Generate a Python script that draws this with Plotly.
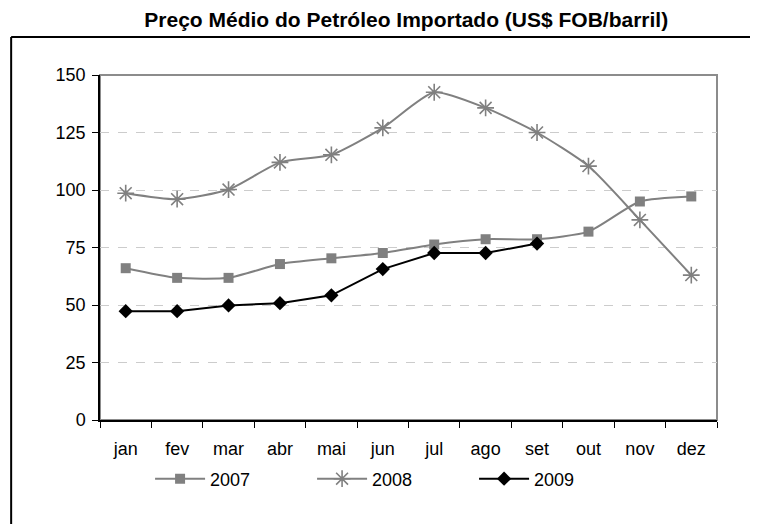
import plotly.graph_objects as go

# Preço médio do petróleo importado (US$ FOB/barril)
meses = ['jan', 'fev', 'mar', 'abr', 'mai', 'jun', 'jul', 'ago', 'set', 'out', 'nov', 'dez']
preco_2007 = [66, 61.8, 61.8, 67.8, 70.3, 72.6, 76.3, 78.6, 78.6, 81.9, 95, 97.2]
preco_2008 = [98.6, 96, 100.2, 112, 115.3, 127, 142.5, 135.7, 125, 110.4, 87, 63]
preco_2009 = [47.3, 47.3, 49.8, 50.8, 54.2, 65.6, 72.6, 72.6, 76.7]

FONT = 'Liberation Sans, Arial, sans-serif'
GRAY = '#808080'

fig = go.Figure()

fig.add_trace(go.Scatter(
    x=meses, y=preco_2007, name='2007', mode='lines+markers',
    line=dict(color=GRAY, width=2, shape='spline', smoothing=0.6),
    marker=dict(symbol='square', size=10, color=GRAY)
))
fig.add_trace(go.Scatter(
    x=meses, y=preco_2008, name='2008', mode='lines+markers',
    line=dict(color=GRAY, width=2, shape='spline', smoothing=0.6),
    marker=dict(symbol='asterisk-open', size=14, color=GRAY,
                line=dict(color=GRAY, width=1.6))
))
fig.add_trace(go.Scatter(
    x=meses[:len(preco_2009)], y=preco_2009, name='2009', mode='lines+markers',
    line=dict(color='black', width=2),
    marker=dict(symbol='diamond', size=11, color='black')
))

# gray plot-area frame (top/right), then the outer chart border
fig.add_shape(type='rect', xref='paper', yref='paper', x0=0, x1=1, y0=0, y1=1,
              line=dict(color='#8c8c8c', width=2), layer='below')
fig.add_shape(type='line', xref='paper', yref='paper', x0=-0.144, x1=1.1,
              y0=1.11, y1=1.11, line=dict(color='black', width=2))
fig.add_shape(type='line', xref='paper', yref='paper', x0=-0.144, x1=-0.144,
              y0=1.11, y1=-0.35, line=dict(color='black', width=2))

# page body has an 8px margin, so the figure is 8px smaller than the window
fig.update_layout(
    width=750, height=516,
    margin=dict(l=92, r=41, t=67, b=104),
    paper_bgcolor='white', plot_bgcolor='white',
    font=dict(family=FONT, size=18, color='black'),
    title=dict(text='<b>Preço Médio do Petróleo Importado (US$ FOB/barril)</b>',
               x=0.531, xanchor='center', y=0.978, yanchor='middle',
               font=dict(family=FONT, size=21, color='black')),
    showlegend=True,
    legend=dict(orientation='h', x=0.475, xanchor='center', y=-0.171, yanchor='middle',
                font=dict(family=FONT, size=18), itemwidth=50,
                entrywidth=97, entrywidthmode='pixels',
                bgcolor='rgba(0,0,0,0)'),
    xaxis=dict(type='category', categoryorder='array', categoryarray=meses,
               tickson='boundaries', ticks='outside', ticklen=6, tickcolor='black',
               ticklabelstandoff=12,
               showline=True, linecolor='black', linewidth=1.5,
               showgrid=False, range=[-0.5, 11.5]),
    yaxis=dict(range=[0, 150], tickvals=[0, 25, 50, 75, 100, 125, 150],
               ticks='outside', ticklen=6, tickcolor='black',
               ticklabelstandoff=3,
               showline=True, linecolor='black', linewidth=1.5,
               showgrid=True, gridcolor='#cccccc', griddash='dash', gridwidth=1,
               zeroline=False),
)

fig.write_html('out.html')
